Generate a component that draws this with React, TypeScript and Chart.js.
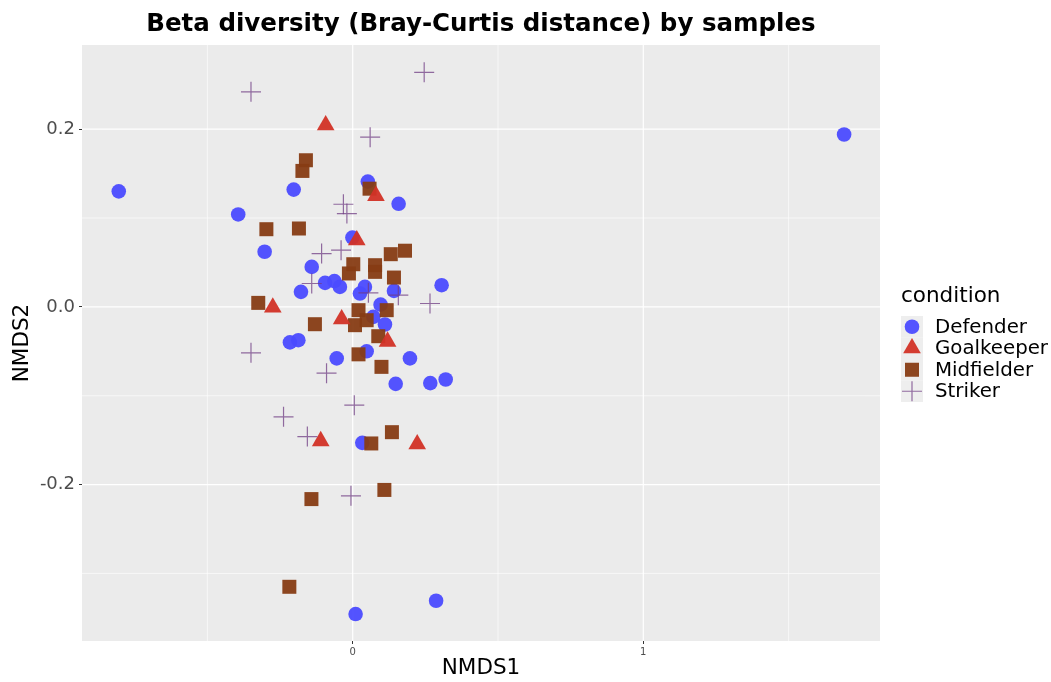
import React, { useEffect, useRef } from "react";
import { Chart, registerables } from "chart.js";
Chart.register(...registerables);

const titleText = "Beta diversity (Bray-Curtis distance) by samples";
const xTitle = "NMDS1";
const yTitle = "NMDS2";
const legendTitle = "condition";
const categories = ["Defender", "Goalkeeper", "Midfielder", "Striker"];

const defenderX = [-0.805, 1.691, -0.203, 0.052, 0.158, -0.394, -0.001, -0.303, -0.141, -0.095, -0.063, -0.044, -0.178, 0.042, 0.025, 0.142, 0.306, 0.096, 0.071, 0.111, -0.216, -0.187, -0.055, 0.048, 0.197, 0.148, 0.267, 0.320, 0.033, 0.010, 0.287];
const defenderY = [0.130, 0.194, 0.132, 0.141, 0.116, 0.104, 0.078, 0.062, 0.045, 0.027, 0.029, 0.0225, 0.0169, 0.0225, 0.015, 0.018, 0.0244, 0.0025, -0.0112, -0.0198, -0.040, -0.0375, -0.058, -0.050, -0.058, -0.0866, -0.0858, -0.0817, -0.153, -0.3457, -0.3307];

const goalkeeperX = [-0.093, 0.080, 0.014, -0.275, -0.038, 0.120, -0.110, 0.222];
const goalkeeperY = [0.2044, 0.125, 0.075, -0.0007, -0.0138, -0.039, -0.151, -0.1545];

const midfielderX = [-0.161, -0.173, 0.058, -0.297, -0.185, 0.131, 0.180, 0.002, -0.013, 0.077, 0.077, 0.142, -0.325, 0.020, 0.117, -0.130, 0.008, 0.048, 0.088, 0.020, 0.099, 0.135, 0.064, 0.109, -0.142, -0.218];
const midfielderY = [0.165, 0.153, 0.133, 0.0874, 0.0882, 0.0593, 0.0632, 0.048, 0.0376, 0.0469, 0.0394, 0.033, 0.0045, -0.0037, -0.0037, -0.0195, -0.0206, -0.015, -0.033, -0.0534, -0.0675, -0.141, -0.1537, -0.206, -0.2163, -0.315];

const strikerX = [-0.350, 0.246, 0.060, -0.032, -0.020, -0.107, -0.040, -0.141, 0.054, 0.157, 0.266, -0.350, -0.090, 0.0055, -0.238, -0.156, -0.006];
const strikerY = [0.242, 0.264, 0.191, 0.1155, 0.105, 0.060, 0.0638, 0.0263, 0.0158, 0.0132, 0.0038, -0.0517, -0.0746, -0.1106, -0.1237, -0.146, -0.2126];

const xTicks = [0, 1];
const xTickLabels = ["0", "1"];
const yTicks = [-0.2, 0, 0.2];
const yTickLabels = ["-0.2", "0.0", "0.2"];
const xMinor = [-0.5, 0.5, 1.5];
const yMinor = [-0.3, -0.1, 0.1];

const X_MIN = -0.9315;
const X_MAX = 1.8145;
const Y_MIN = -0.376;
const Y_MAX = 0.2947;

const COLORS = {
  Defender: "rgba(75,75,255,0.95)",
  Goalkeeper: "rgba(210,50,38,0.95)",
  Midfielder: "rgba(135,60,20,0.95)",
  Striker: "rgba(112,62,132,0.75)",
};
const FONT = "'DejaVu Sans', Verdana, sans-serif";

function zip(xs: number[], ys: number[]) {
  return xs.map((x, i) => ({ x, y: ys[i] }));
}

function drawSymbol(ctx: CanvasRenderingContext2D, kind: string, x: number, y: number) {
  ctx.save();
  const c = (COLORS as any)[kind];
  ctx.fillStyle = c;
  ctx.strokeStyle = c;
  if (kind === "Defender") {
    ctx.beginPath();
    ctx.arc(x, y, 7.3, 0, Math.PI * 2);
    ctx.fill();
  } else if (kind === "Goalkeeper") {
    const r = 10.2;
    ctx.beginPath();
    for (let k = 0; k < 3; k++) {
      const a = (k * 2 * Math.PI) / 3;
      const px = x + Math.sin(a) * r;
      const py = y - Math.cos(a) * r;
      if (k === 0) ctx.moveTo(px, py);
      else ctx.lineTo(px, py);
    }
    ctx.closePath();
    ctx.fill();
  } else if (kind === "Midfielder") {
    ctx.fillRect(x - 7, y - 7, 14, 14);
  } else {
    ctx.lineWidth = 1.2;
    ctx.beginPath();
    ctx.moveTo(x - 10, y);
    ctx.lineTo(x + 10, y);
    ctx.moveTo(x, y - 10);
    ctx.lineTo(x, y + 10);
    ctx.stroke();
  }
  ctx.restore();
}

const panelPlugin = {
  id: "panelPlugin",
  beforeDatasetsDraw(chart: any) {
    const { ctx, chartArea } = chart;
    const xs = chart.scales.x;
    const ys = chart.scales.y;
    ctx.save();
    ctx.fillStyle = "#EBEBEB";
    ctx.fillRect(chartArea.left, chartArea.top, chartArea.right - chartArea.left, chartArea.bottom - chartArea.top);
    ctx.strokeStyle = "#FFFFFF";
    ctx.lineWidth = 0.6;
    ctx.beginPath();
    xMinor.forEach((v) => {
      const p = xs.getPixelForValue(v);
      ctx.moveTo(p, chartArea.top);
      ctx.lineTo(p, chartArea.bottom);
    });
    yMinor.forEach((v) => {
      const p = ys.getPixelForValue(v);
      ctx.moveTo(chartArea.left, p);
      ctx.lineTo(chartArea.right, p);
    });
    ctx.stroke();
    ctx.lineWidth = 1.2;
    ctx.beginPath();
    xTicks.forEach((v) => {
      const p = xs.getPixelForValue(v);
      ctx.moveTo(p, chartArea.top);
      ctx.lineTo(p, chartArea.bottom);
    });
    yTicks.forEach((v) => {
      const p = ys.getPixelForValue(v);
      ctx.moveTo(chartArea.left, p);
      ctx.lineTo(chartArea.right, p);
    });
    ctx.stroke();
    ctx.restore();
  },
  afterDraw(chart: any) {
    const { ctx, chartArea } = chart;
    const cx = (chartArea.left + chartArea.right) / 2;
    const cy = (chartArea.top + chartArea.bottom) / 2;
    ctx.save();
    ctx.fillStyle = "#000000";
    ctx.textAlign = "center";
    ctx.textBaseline = "middle";
    ctx.font = `bold 24.5px ${FONT}`;
    ctx.fillText(titleText, cx, 25);
    ctx.font = `21.5px ${FONT}`;
    ctx.fillText(xTitle, cx, 668);
    ctx.save();
    ctx.translate(22, cy);
    ctx.rotate(-Math.PI / 2);
    ctx.fillText(yTitle, 0, 0);
    ctx.restore();
    // legend
    ctx.textAlign = "left";
    ctx.font = `21.5px ${FONT}`;
    ctx.fillText(legendTitle, 901, 296);
    const keyTop = 316;
    const keyH = 21.5;
    categories.forEach((cat, i) => {
      const ky = keyTop + i * keyH;
      ctx.fillStyle = "#EEEEEE";
      ctx.fillRect(901, ky, 22, keyH);
      drawSymbol(ctx, cat, 912, ky + keyH / 2);
      ctx.fillStyle = "#000000";
      ctx.font = `19.8px ${FONT}`;
      ctx.fillText(cat, 935, ky + keyH / 2 + 1);
    });
    ctx.restore();
  },
};

export default function App() {
  const ref = useRef<HTMLCanvasElement | null>(null);
  useEffect(() => {
    document.body.style.margin = "0";
    const canvas = ref.current;
    if (!canvas) return;
    const chart = new Chart(canvas, {
      type: "scatter",
      data: {
        datasets: [
          {
            label: "Striker",
            data: zip(strikerX, strikerY),
            pointStyle: "cross",
            pointRadius: 10,
            pointBorderWidth: 1.2,
            borderColor: COLORS.Striker,
            backgroundColor: COLORS.Striker,
            order: 0,
          },
          {
            label: "Goalkeeper",
            data: zip(goalkeeperX, goalkeeperY),
            pointStyle: "triangle",
            pointRadius: 10.2,
            pointBorderWidth: 0,
            borderColor: COLORS.Goalkeeper,
            backgroundColor: COLORS.Goalkeeper,
            order: 1,
          },
          {
            label: "Midfielder",
            data: zip(midfielderX, midfielderY),
            pointStyle: "rect",
            pointRadius: 9.9,
            pointBorderWidth: 0,
            borderColor: COLORS.Midfielder,
            backgroundColor: COLORS.Midfielder,
            order: 2,
          },
          {
            label: "Defender",
            data: zip(defenderX, defenderY),
            pointStyle: "circle",
            pointRadius: 7.3,
            pointBorderWidth: 0,
            borderColor: COLORS.Defender,
            backgroundColor: COLORS.Defender,
            order: 3,
          },
        ],
      },
      options: {
        responsive: false,
        animation: false,
        events: [],
        layout: { padding: { top: 45, right: 171, left: 0, bottom: 0 } },
        plugins: { legend: { display: false }, tooltip: { enabled: false }, title: { display: false } },
        scales: {
          x: {
            type: "linear",
            min: X_MIN,
            max: X_MAX,
            afterBuildTicks: (s: any) => {
              s.ticks = xTicks.map((v) => ({ value: v }));
            },
            afterFit: (s: any) => {
              s.height = 41;
            },
            ticks: {
              autoSkip: false,
              maxRotation: 0,
              padding: 2,
              color: "#4D4D4D",
              font: { size: 10, family: FONT },
              callback: (v: any) => {
                const i = xTicks.indexOf(Number(v));
                return i >= 0 ? xTickLabels[i] : "";
              },
            },
            grid: { drawOnChartArea: false, drawTicks: true, tickLength: 3, color: "#333333", tickColor: "#333333" },
            border: { display: false },
          },
          y: {
            type: "linear",
            min: Y_MIN,
            max: Y_MAX,
            afterBuildTicks: (s: any) => {
              s.ticks = yTicks.map((v) => ({ value: v }));
            },
            afterFit: (s: any) => {
              s.width = 82;
            },
            ticks: {
              autoSkip: false,
              padding: 4,
              color: "#4D4D4D",
              font: { size: 18, family: FONT },
              callback: (v: any) => {
                const i = yTicks.findIndex((t) => Math.abs(t - Number(v)) < 1e-9);
                return i >= 0 ? yTickLabels[i] : "";
              },
            },
            grid: { drawOnChartArea: false, drawTicks: true, tickLength: 3, color: "#333333", tickColor: "#333333" },
            border: { display: false },
          },
        },
      },
      plugins: [panelPlugin],
    } as any);
    return () => chart.destroy();
  }, []);
  return (
    <div style={{ width: 1051, height: 682, background: "#FFFFFF" }}>
      <canvas ref={ref} width={1051} height={682} style={{ display: "block" }} />
    </div>
  );
}
